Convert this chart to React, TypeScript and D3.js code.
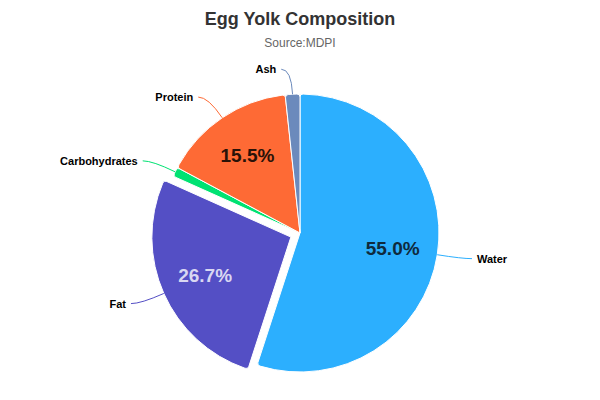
import React from "react";
import * as d3 from "d3";

const categories = ["Water", "Fat", "Carbohydrates", "Protein", "Ash"];
const values = [55.0, 26.7, 1.1, 15.5, 1.7];
const colors = ["#2caffe", "#544fc5", "#00e272", "#fe6a35", "#6b8abc"];
const labelColors = ["#0f2a3d", "#d9d7f2", "#111", "#2a1208", "#111"];
const sliced = [false, true, false, false, false];

export default function App() {
  const W = 600, H = 400, cx = 300, cy = 233, r = 139;
  const pie = d3.pie<number>().sort(null).value((d) => d)(values);
  const arc = d3.arc<any>().innerRadius(0).outerRadius(r).cornerRadius(3);
  return (
    <svg width={W} height={H} style={{ position: "absolute", left: 0, top: 0, fontFamily: "Helvetica, Arial, 'Liberation Sans', sans-serif" }}>
      <rect width={W} height={H} fill="#fff" />
      <text x={W / 2} y={25} textAnchor="middle" fontSize={18} fontWeight="bold" fill="#333">Egg Yolk Composition</text>
      <text x={W / 2} y={47} textAnchor="middle" fontSize={12} fill="#666">Source:MDPI</text>
      {pie.map((p, i) => {
        const mid = (p.startAngle + p.endAngle) / 2;
        const off = sliced[i] ? 10 : 0;
        const dx = Math.sin(mid) * off, dy = -Math.cos(mid) * off;
        const ox = cx + dx, oy = cy + dy;
        const ex = ox + Math.sin(mid) * r, ey = oy - Math.cos(mid) * r;
        const lx = ox + Math.sin(mid) * (r + 25), ly = oy - Math.cos(mid) * (r + 25);
        const right = Math.sin(mid) > 0;
        const tx = lx + (right ? 10 : -10);
        const pct = values[i] / d3.sum(values) * 100;
        const [ix, iy] = d3.arc<any>().innerRadius(0).outerRadius(r * 1.35).centroid(p);
        return (
          <g key={i}>
            <path d={arc(p) as string} transform={`translate(${ox},${oy})`} fill={colors[i]} stroke="#fff" strokeWidth={1} />
            <path d={`M${ex},${ey} Q${lx},${ly} ${tx},${ly}`} fill="none" stroke={colors[i]} strokeWidth={1} />
            <text x={tx + (right ? 5 : -5)} y={ly + 4} textAnchor={right ? "start" : "end"} fontSize={11} fontWeight="bold" fill="#000">{categories[i]}</text>
            {pct > 5 && (
              <text x={ox + ix} y={oy + iy + 7} textAnchor="middle" fontSize={19} fontWeight="bold" fill={labelColors[i]}>{pct.toFixed(1)}%</text>
            )}
          </g>
        );
      })}
    </svg>
  );
}
